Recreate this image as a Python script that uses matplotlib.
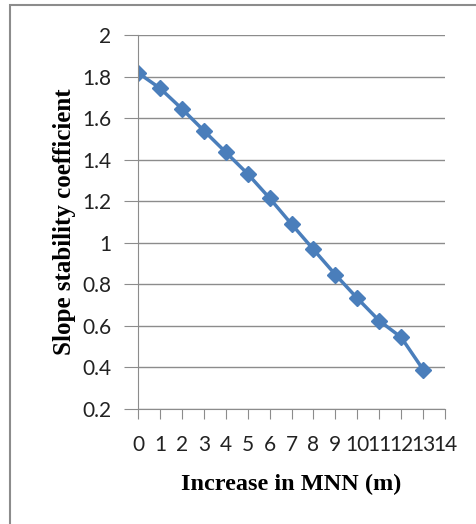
import matplotlib
matplotlib.use("Agg")
from matplotlib import pyplot as plt
from matplotlib.patches import Rectangle

# data
mnn_increase = [0, 1, 2, 3, 4, 5, 6, 7, 8, 9, 10, 11, 12, 13]
stability = [1.818, 1.744, 1.645, 1.54, 1.436, 1.332, 1.215, 1.09, 0.968, 0.847, 0.733, 0.625, 0.545, 0.39]
x_ticks = list(range(0, 15))
y_ticks = [0.2, 0.4, 0.6, 0.8, 1, 1.2, 1.4, 1.6, 1.8, 2]

fig = plt.figure(figsize=(4.77, 5.24), dpi=100)
ax = fig.add_axes([138 / 477, 1 - 409 / 524, (445 - 138) / 477, (409 - 35) / 524])

ax.plot(mnn_increase, stability, color='#4A7EBB', linewidth=2.5,
        marker='D', markersize=8, markerfacecolor='#4A7EBB', markeredgecolor='#4A7EBB')

ax.set_xlim(0, 14)
ax.set_ylim(0.2, 2)
ax.set_xticks(x_ticks)
ax.set_yticks(y_ticks)
ax.set_yticklabels([f'{v:g}' for v in y_ticks])
ax.grid(axis='y', color='#8C8C8C', linewidth=1)
ax.set_axisbelow(True)

for s in ['top', 'right']:
    ax.spines[s].set_visible(False)
for s in ['left', 'bottom']:
    ax.spines[s].set_color('#8C8C8C')
ax.tick_params(axis='y', length=10, color='#8C8C8C', labelsize=15, pad=9)
ax.tick_params(axis='x', length=7, color='#8C8C8C', labelsize=15, pad=12)
for lab in ax.get_xticklabels() + ax.get_yticklabels():
    lab.set_family('Lato')
    lab.set_color('#222222')

ax.set_xlabel('Increase in MNN (m)', family='Liberation Serif', weight='bold', fontsize=17.5, labelpad=13)
ax.set_ylabel('Slope stability coefficient', family='Liberation Serif', weight='bold', fontsize=18, labelpad=5)

# chart border (only top and left edges fall inside the image)
fig.patches.append(Rectangle((10 / 477, -0.1), 1.2, 1 - 5 / 524 + 0.1, transform=fig.transFigure,
                             fill=False, edgecolor='#8C8C8C', linewidth=1.5))

fig.savefig('out.png', dpi=100)
